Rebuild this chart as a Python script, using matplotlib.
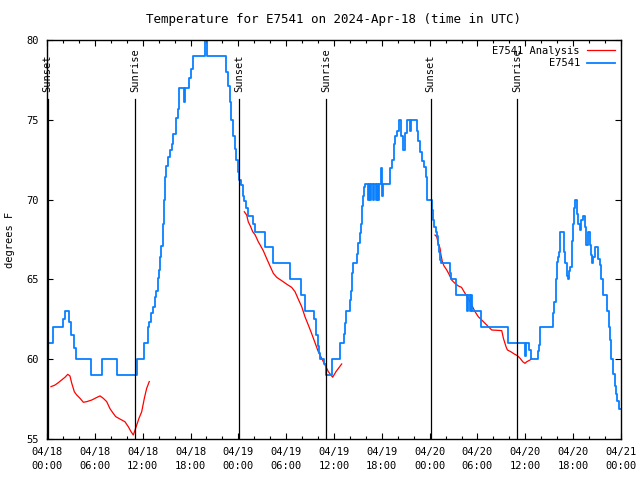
import numpy as np
import matplotlib
matplotlib.use("Agg")
import matplotlib.pyplot as plt

# hours since 2024-04-18 00:00 UTC, temperature holds until the next entry
obs_hours = [0.0, 0.8, 2.05, 2.3, 2.75, 3.05, 3.35, 3.6, 5.48, 6.86,
             8.8, 11.25, 12.2, 12.65, 12.85, 13.1, 13.3, 13.5, 13.7, 13.9,
             14.05, 14.2, 14.35, 14.5, 14.62, 14.75, 14.95, 15.15, 15.4, 15.7,
             15.85, 16.2, 16.4, 16.6, 17.2, 17.35, 17.8, 18.05, 18.3, 19.85,
             20.1, 22.4, 22.65, 22.9, 23.1, 23.3, 23.55, 23.75, 23.95, 24.1,
             24.3, 24.55, 24.75, 25.0, 25.2, 25.9, 26.1, 27.3, 28.3, 30.5,
             31.85, 32.3, 33.45, 33.7, 33.8, 33.95, 34.1, 34.25, 34.8, 34.95,
             35.7, 36.7, 37.2, 37.35, 37.5, 37.95, 38.1, 38.25, 38.35, 38.9,
             39.05, 39.2, 39.35, 39.5, 39.6, 39.75, 39.9, 40.31, 40.43, 40.56,
             40.68, 40.93, 41.06, 41.31, 41.43, 41.56, 41.69, 41.85, 42.02, 42.19,
             43.0, 43.3, 43.5, 43.65, 43.95, 44.1, 44.2, 44.4, 44.6, 44.85,
             45.1, 45.5, 45.7, 46.35, 46.55, 46.75, 47.0, 47.3, 47.5, 47.65,
             48.25, 48.45, 48.6, 48.75, 48.9, 49.05, 49.15, 49.3, 49.45, 50.5,
             50.7, 51.3, 52.64, 52.85, 53.06, 53.19, 53.35, 54.5, 57.8, 59.9,
             60.1, 60.45, 60.65, 61.6, 61.75, 61.9, 63.45, 63.65, 63.8, 63.92,
             64.05, 64.2, 64.35, 64.85, 65.0, 65.2, 65.35, 65.5, 65.65, 65.8,
             65.95, 66.1, 66.25, 66.45, 66.6, 66.8, 67.0, 67.2, 67.45, 67.65,
             67.85, 68.05, 68.25, 68.4, 68.55, 68.8, 69.1, 69.35, 69.55, 69.75,
             70.3, 70.45, 70.6, 70.8, 71.0, 71.2, 71.4, 71.55, 71.75, 72.0]
obs_temps = [61, 62, 62.5, 63, 62.3, 61.5, 60.7, 60, 59, 60,
             59, 60, 61, 62, 62.3, 62.9, 63.3, 63.9, 64.3, 65.1,
             65.6, 66.4, 67.1, 68.5, 70, 71.4, 72.1, 72.7, 73.1, 73.5,
             74.1, 75.1, 75.7, 77, 76.1, 77, 77.6, 78.2, 79, 80,
             79, 78, 77.1, 76.1, 75, 74, 73.2, 72.5, 71.7, 71.2,
             70.9, 70.2, 69.9, 69.45, 69, 68.5, 68, 67, 66, 65,
             64, 63, 62.5, 62.1, 61.5, 60.8, 60.4, 60, 59.7, 59,
             60, 61, 61.6, 62.25, 63, 63.7, 64.3, 65.4, 66, 66.6,
             67.3, 67.9, 68.5, 69.6, 70.2, 70.8, 71, 70, 71, 70,
             71, 70, 71, 70, 71, 70, 71, 72, 70.2, 71,
             72, 72.5, 73.5, 74, 74.3, 74.8, 75, 74, 73.1, 74.15,
             75, 74.3, 75, 74.3, 73.7, 73, 72.4, 72.06, 71.4, 70,
             69.35, 68.7, 68.3, 68, 67.7, 67.15, 66.7, 66.2, 66, 65.4,
             65, 64, 63, 64, 63, 64, 63, 62, 61, 60.2,
             61, 60.6, 60, 60.5, 60.9, 62, 62.9, 63.6, 65, 66.1,
             66.4, 66.7, 68, 66.7, 66, 65.2, 65, 65.5, 65.8, 67.4,
             68.5, 69.5, 70, 69.1, 68.5, 68.1, 68.7, 69, 68.3, 67.15,
             68, 67.15, 66.5, 66, 66.4, 67, 66.3, 65.9, 65, 64,
             63, 62, 61.2, 60, 59.1, 58.3, 57.8, 57.35, 56.9, 56.9]

# analysis, three separate runs
ana1_hours = [0.5, 1.0, 1.42, 1.84, 2.26, 2.6, 2.88, 3.1, 3.43, 3.72, 4.14, 4.56, 4.98,
              5.6, 6.23, 6.65, 7.06, 7.49, 7.9, 8.32, 8.62, 9.16, 9.78, 10.2, 10.54,
              10.83, 11.04, 11.25, 11.54, 11.88, 12.21, 12.5, 12.83]
ana1_temps = [58.28, 58.38, 58.53, 58.7, 58.87, 59.05, 58.95, 58.5, 57.96, 57.76, 57.55,
              57.3, 57.34, 57.44, 57.6, 57.7, 57.55, 57.34, 56.9, 56.6, 56.4, 56.25,
              56.08, 55.77, 55.46, 55.25, 55.56, 55.87, 56.3, 56.71, 57.55, 58.17, 58.6]
ana2_hours = [24.75, 25.05, 25.25, 25.55, 25.8, 26.1, 26.5, 26.8, 27.13, 27.56, 27.97,
              28.39, 28.81, 29.44, 30.07, 30.69, 31.11, 31.53, 31.95, 32.36, 32.78,
              33.2, 33.62, 34.03, 34.46, 34.87, 35.29, 35.83, 36.25, 36.96]
ana2_temps = [69.24, 69.03, 68.6, 68.3, 67.99, 67.8, 67.36, 67.1, 66.8, 66.3, 65.84,
              65.38, 65.13, 64.92, 64.7, 64.5, 64.23, 63.75, 63.29, 62.66, 62.14,
              61.6, 61.03, 60.47, 60.05, 59.64, 59.22, 58.87, 59.22, 59.7]
ana3_hours = [48.67, 48.88, 49.08, 49.3, 49.42, 49.59, 49.8, 50.14, 50.47, 50.76, 51.18,
              51.6, 52.0, 52.43, 52.85, 53.27, 53.69, 54.1, 54.52, 54.94, 55.36, 55.78,
              57.04, 57.25, 57.58, 57.75, 58.17, 58.6, 59.01, 59.35, 59.68, 59.96,
              60.17, 60.59, 60.8]
ana3_temps = [67.78, 67.68, 67.26, 66.95, 66.53, 66.11, 65.84, 65.59, 65.28, 64.96, 64.75,
              64.59, 64.5, 64.13, 63.82, 63.4, 62.98, 62.66, 62.46, 62.25, 62.04, 61.83,
              61.79, 61.31, 60.78, 60.58, 60.47, 60.33, 60.22, 60.05, 59.84, 59.74,
              59.84, 59.95, 60.05]

sun_hours = [0.09, 11.08, 24.12, 35.04, 48.13, 59.0]
sun_labels = ["Sunset", "Sunrise", "Sunset", "Sunrise", "Sunset", "Sunrise"]

tick_hours = list(range(0, 73, 6))
tick_labels = ["04/18\n00:00", "04/18\n06:00", "04/18\n12:00", "04/18\n18:00",
               "04/19\n00:00", "04/19\n06:00", "04/19\n12:00", "04/19\n18:00",
               "04/20\n00:00", "04/20\n06:00", "04/20\n12:00", "04/20\n18:00",
               "04/21\n00:00"]

plt.rcParams['font.family'] = ['DejaVu Sans Mono']
plt.rcParams['font.size'] = 7.5

fig = plt.figure(figsize=(6.4, 4.8), dpi=100)
ax = fig.add_axes([47 / 640, 1 - 439 / 480, 574 / 640, 399 / 480])

red = '#ff0000'
blue = '#0a80ff'

first = True
for hh, tt in [(ana1_hours, ana1_temps), (ana2_hours, ana2_temps), (ana3_hours, ana3_temps)]:
    ax.plot(hh, tt, color=red, lw=0.9, label='E7541 Analysis' if first else None)
    first = False
ax.plot(obs_hours, obs_temps, color=blue, lw=1.3, drawstyle='steps-post', label='E7541')

for h, lab in zip(sun_hours, sun_labels):
    ax.plot([h, h], [55, 76.3], color='black', lw=0.9)
    ax.text(h, 76.75, lab, rotation=90, ha='center', va='bottom')

ax.set_xlim(0, 72)
ax.set_ylim(55, 80)
ax.set_xticks(tick_hours)
ax.set_xticklabels(tick_labels, linespacing=1.45)
ax.set_xticks(np.arange(0, 73, 2), minor=True)
ax.set_yticks([55, 60, 65, 70, 75, 80])
ax.tick_params(which='both', direction='in', top=True, right=True)
ax.tick_params(axis='x', pad=6)
ax.tick_params(axis='y', pad=6)
ax.tick_params(which='major', length=4, width=0.8)
ax.tick_params(which='minor', length=2.5, width=0.8)
for s in ax.spines.values():
    s.set_linewidth(1.0)

ax.set_ylabel('degrees F', labelpad=8)
ax.set_title('Temperature for E7541 on 2024-Apr-18 (time in UTC)', pad=12)

ax.legend(loc='upper right', frameon=False, markerfirst=False, handlelength=2.7,
          borderaxespad=0.25, borderpad=0.3, labelspacing=0.25, handletextpad=0.7)

fig.savefig('out.png', dpi=100)
